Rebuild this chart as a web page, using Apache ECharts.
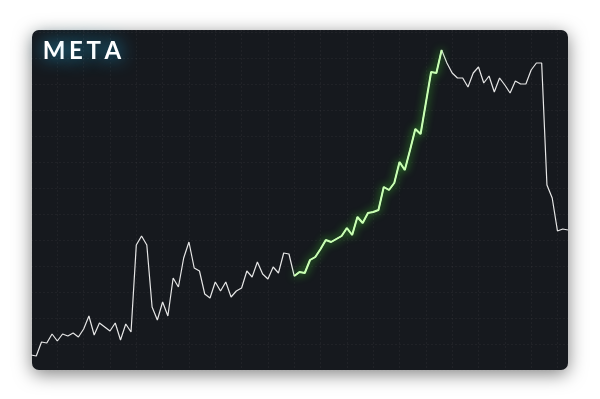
<!DOCTYPE html>
<html>
<head>
<meta charset="utf-8">
<script src="https://cdn.jsdelivr.net/npm/echarts@6/dist/echarts.min.js"></script>
<style>
html,body{margin:0;padding:0;background:#ffffff;}
#chart{width:600px;height:399px;}
</style>
</head>
<body>
<div id="chart"></div>
<script>
// ---- data ----
const tickerLabel = 'META';
const days = [];
const prices = [
  15, 14, 28, 27, 36, 29, 36, 34, 37, 33, 41, 54, 35, 47, 43, 39, 47, 30, 46, 38,
  125, 134, 125, 63, 50, 68, 54, 92, 83, 112, 128, 102, 99, 76, 72, 88, 79,
  88, 73, 79, 82, 99, 93, 108, 96, 91, 103, 97, 117, 116, 94,
  98, 97, 110, 113, 121, 130, 128, 131, 134, 142, 135, 153, 147, 157, 158, 160, 183, 180,
  187, 208, 200, 220, 241, 236, 267, 298, 297, 320,
  307, 297, 292, 292, 283, 297, 303, 287, 294, 278, 292, 285, 277, 289, 286, 286, 300, 307, 307,
  185, 172, 139, 141, 140
];
for (let i = 0; i < prices.length; i++) days.push('D' + (i + 1));
const rallyStart = 50;
const rallyEnd = 78;
const rally = prices.map((v, i) => (i >= rallyStart && i <= rallyEnd) ? v : '-');

const chart = echarts.init(document.getElementById('chart'), null, {renderer: 'canvas'});
chart.setOption({
  backgroundColor: '#ffffff',
  animation: false,
  graphic: [{
    type: 'rect',
    z: -10,
    silent: true,
    shape: {x: 32, y: 30, width: 536, height: 340, r: 7},
    style: {
      fill: '#16191e',
      shadowBlur: 18,
      shadowColor: 'rgba(0,0,0,0.5)',
      shadowOffsetY: 4
    }
  }],
  title: {
    text: tickerLabel.split('').map(c => '{l|' + c + '}').join(''),
    left: 41,
    top: 39,
    padding: 0,
    textStyle: {
      rich: {
        l: {
          fontFamily: 'Lato',
          fontWeight: 'bold',
          fontSize: 24,
          color: '#ffffff',
          padding: [0, 1.8, 0, 1.8],
          textShadowColor: 'rgba(30,175,225,1)',
          textShadowBlur: 18
        }
      }
    }
  },
  grid: {left: 31, right: 32, top: 30, bottom: 29},
  xAxis: {
    type: 'category',
    data: days,
    boundaryGap: false,
    axisLine: {show: false},
    axisTick: {show: false},
    axisLabel: {show: false},
    splitLine: {show: true, interval: 4, lineStyle: {color: 'rgba(255,255,255,0.045)', type: [2, 2]}}
  },
  yAxis: {
    type: 'value',
    min: 0,
    max: 340,
    interval: 26,
    axisLine: {show: false},
    axisTick: {show: false},
    axisLabel: {show: false},
    splitLine: {show: true, lineStyle: {color: 'rgba(255,255,255,0.045)', type: [2, 2]}}
  },
  series: [{
    type: 'line',
    data: prices,
    symbol: 'none',
    z: 2,
    lineStyle: {color: '#e6e6e6', width: 1.2}
  }, {
    type: 'line',
    data: rally,
    symbol: 'none',
    z: 3,
    lineStyle: {color: '#c9ffb3', width: 2, shadowColor: '#3fd42c', shadowBlur: 9}
  }]
});
</script>
</body>
</html>
